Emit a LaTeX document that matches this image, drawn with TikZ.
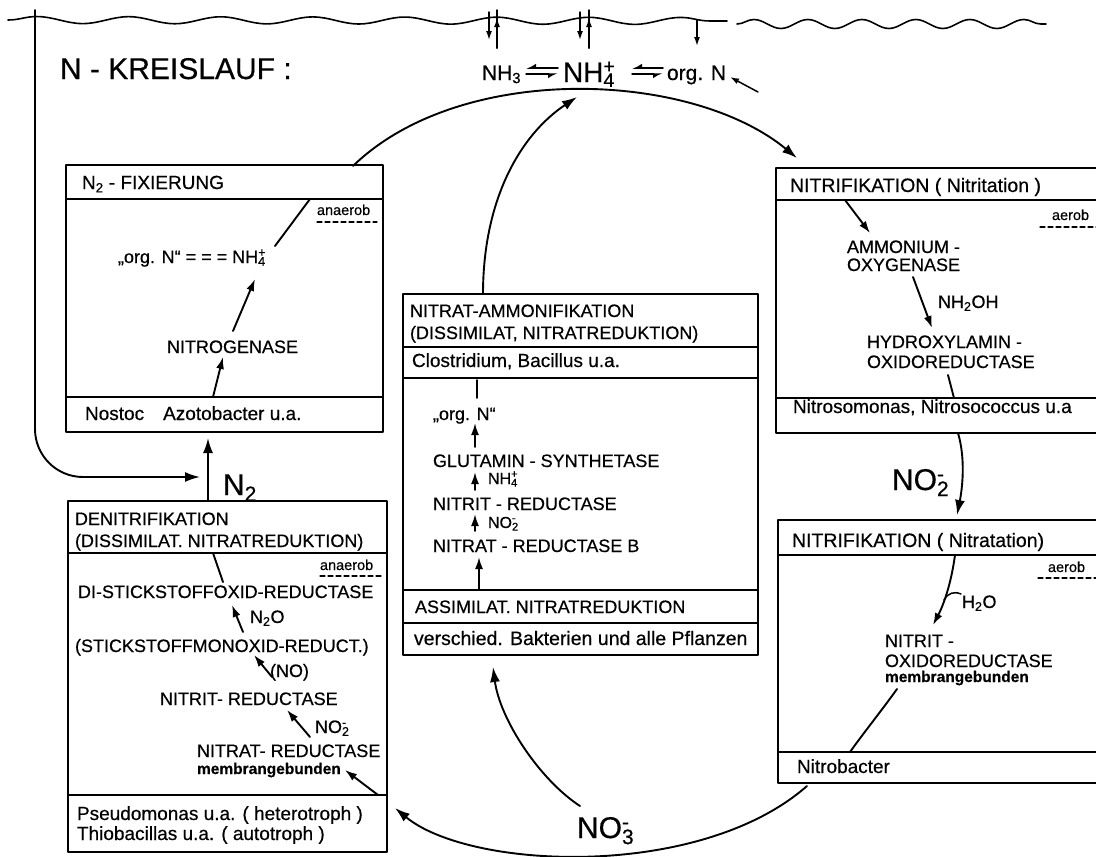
\documentclass[tikz,border=0pt]{standalone}
\usepackage{fontspec}
\setmainfont{Liberation Sans}[FakeBold=0.5]
\usetikzlibrary{arrows.meta,decorations.pathmorphing}
\newcommand\chemion[2]{\rlap{\textsubscript{#1}}\textsuperscript{#2}}
\newcommand\fsz[1]{\fontsize{#1}{#1}\selectfont}
\tikzset{
  lbl/.style={inner sep=0pt, outer sep=0pt, anchor=base west, font=\fsz{18}},
  head/.style={lbl, font=\fsz{19}},
  foot/.style={lbl, font=\fsz{19}},
  big/.style={lbl, font=\fsz{30}},
  env/.style={lbl, font=\fsz{14.5}},
  memb/.style={lbl, font=\fsz{15.5}\bfseries},
  frame/.style={draw, line width=2.1pt, inner sep=0pt, outer sep=0pt, anchor=north west},
  rule/.style={line width=1.7pt},
  link/.style={line width=1.9pt},
  flow/.style={link, -{Latex[length=15pt,width=10pt]}},
  sflow/.style={link, -{Latex[length=12pt,width=8pt]}},
  tflow/.style={line width=1.5pt, -{Latex[length=9pt,width=6pt]}},
  dashrule/.style={line width=1.3pt, dash pattern=on 5pt off 3pt},
  wave/.style={line width=1.6pt, decorate},
  harp/.style={line width=1.5pt},
}
\begin{document}
\begin{tikzpicture}[x=1pt, y=-1pt, line cap=round, line join=round]
\useasboundingbox (0,0) rectangle (1096,857);
\clip (0,0) rectangle (1096,857);

% water surface
\coordinate (wA) at (8,20);   \coordinate (wB) at (727,21);
\coordinate (wC) at (737,24); \coordinate (wD) at (1046,24);
\draw[wave, decoration={snake, segment length=92pt, amplitude=3.5pt}] (wA) -- (wB);
\draw[wave, decoration={snake, segment length=54pt, amplitude=4.5pt}] (wC) -- (wD);

% title and the ammonium row
\node[lbl, font=\fsz{30}] (title) at (60,79) {N - KREISLAUF :};
\node[lbl, font=\fsz{21}] (nh3) at (482,80) {NH\textsubscript{3}};
\node[lbl, font=\fsz{28}] (nh4) at (563,82) {NH\chemion{4}{+}};
\node[lbl, font=\fsz{21}] (orgn) at (667,80) {org. N};

% equilibrium harpoons
\coordinate (e1a) at (526,68); \coordinate (e1b) at (558,68);
\coordinate (e1c) at (526,74); \coordinate (e1d) at (558,74);
\coordinate (e2a) at (632,68); \coordinate (e2b) at (663,68);
\coordinate (e2c) at (632,74); \coordinate (e2d) at (663,74);
\draw[harp, -{Latex[harpoon,swap,length=8pt,width=9pt]}] (e1b) -- (e1a);
\draw[harp, -{Latex[harpoon,swap,length=8pt,width=9pt]}] (e1c) -- (e1d);
\draw[harp, -{Latex[harpoon,swap,length=8pt,width=9pt]}] (e2b) -- (e2a);
\draw[harp, -{Latex[harpoon,swap,length=8pt,width=9pt]}] (e2c) -- (e2d);

% exchange through the surface
\coordinate (p1a) at (489,12); \coordinate (p1b) at (489,40);
\coordinate (p1c) at (497,48); \coordinate (p1d) at (497,10); \coordinate (p1e) at (497,18);
\coordinate (p2a) at (580,12); \coordinate (p2b) at (580,40);
\coordinate (p2c) at (589,48); \coordinate (p2d) at (589,10); \coordinate (p2e) at (589,18);
\coordinate (s1a) at (697,20); \coordinate (s1b) at (697,46);
\draw[tflow] (p1a) -- (p1b);
\draw[line width=1.5pt] (p1c) -- (p1d); \draw[tflow] (p1c) -- (p1e);
\draw[tflow] (p2a) -- (p2b);
\draw[line width=1.5pt] (p2c) -- (p2d); \draw[tflow] (p2c) -- (p2e);
\draw[tflow] (s1a) -- (s1b);
\coordinate (oa) at (758,92); \coordinate (ob) at (730,77);
\draw[tflow] (oa) -- (ob);

% ---------- N2 fixation
\node[frame, minimum width=317pt, minimum height=267pt] (fixbox) at (66,165) {};
\draw[rule] (66,199) -- (383,199) (66,397) -- (383,397);
\node[head] (fixtitle) at (82,189) {N\textsubscript{2} - FIXIERUNG};
\node[env] (fixenv) at (317,215) {anaerob};
\draw[dashrule] (317,222) -- (377,222);
\node[lbl] (fixorg) at (118,263) {„org. N“ = = = NH\chemion{4}{+}};
\node[lbl] (nitrogenase) at (167,353) {NITROGENASE};
\node[foot] (fixbact) at (85,420) {Nostoc\quad Azotobacter u.a.};
\coordinate (f1a) at (310,199); \coordinate (f1b) at (275,246);
\coordinate (f2a) at (233,331); \coordinate (f2b) at (255,279);
\coordinate (f3a) at (213,397); \coordinate (f3b) at (223,357);
\draw[link] (f1a) -- (f1b);
\draw[sflow] (f2a) -- (f2b);
\draw[sflow] (f3a) -- (f3b);

% ---------- nitrate ammonification / assimilation
\node[frame, minimum width=355pt, minimum height=361pt] (ammbox) at (403,294) {};
\draw[rule] (403,347) -- (758,347) (403,378) -- (758,378) (403,590) -- (758,590) (403,623) -- (758,623);
\node[lbl] (amm1) at (410,317) {NITRAT-AMMONIFIKATION};
\node[lbl] (amm2) at (410,339) {(DISSIMILAT, NITRATREDUKTION)};
\node[foot] (ammbact) at (412,367) {Clostridium, Bacillus u.a.};
\node[lbl] (amorg) at (433,420) {„org. N“};
\node[lbl] (glut) at (433,467) {GLUTAMIN - SYNTHETASE};
\node[lbl, font=\fsz{16}] (amnh4) at (488,484) {NH\chemion{4}{+}};
\node[lbl] (nirb) at (433,510) {NITRIT - REDUCTASE};
\node[lbl, font=\fsz{16}] (amno2) at (488,528) {NO\chemion{2}{-}};
\node[lbl] (narb) at (433,552) {NITRAT - REDUCTASE B};
\node[lbl] (assim) at (415,613) {ASSIMILAT. NITRATREDUKTION};
\node[foot, font=\fsz{19.5}] (plants) at (414,645) {verschied. Bakterien und alle Pflanzen};
\coordinate (a0a) at (477,380); \coordinate (a0b) at (477,398);
\coordinate (a1a) at (475,447); \coordinate (a1b) at (475,423);
\coordinate (a2a) at (475,490); \coordinate (a2b) at (475,472);
\coordinate (a3a) at (475,531); \coordinate (a3b) at (475,514);
\coordinate (a4a) at (479,590); \coordinate (a4b) at (479,557);
\draw[link] (a0a) -- (a0b);
\draw[sflow] (a1a) -- (a1b);
\draw[sflow] (a2a) -- (a2b);
\draw[sflow] (a3a) -- (a3b);
\draw[sflow] (a4a) -- (a4b);

% ---------- nitritation
\node[frame, minimum width=334pt, minimum height=265pt] (nitritbox) at (776,168) {};
\draw[rule] (776,200) -- (1110,200) (776,398) -- (1110,398);
\node[head, font=\fsz{19.5}] (nitrit1) at (790,192) {NITRIFIKATION ( Nitritation )};
\node[env] (nitritenv) at (1052,220) {aerob};
\draw[dashrule] (1040,227) -- (1100,227);
\node[lbl] (amo1) at (847,253) {AMMONIUM -};
\node[lbl] (amo2) at (847,271) {OXYGENASE};
\node[lbl] (nh2oh) at (938,308) {NH\textsubscript{2}OH};
\node[lbl] (hao1) at (867,348) {HYDROXYLAMIN -};
\node[lbl] (hao2) at (867,368) {OXIDOREDUCTASE};
\node[foot] (nitritbact) at (793,413) {Nitrosomonas, Nitrosococcus u.a};
\coordinate (r1a) at (845,200); \coordinate (r1b) at (870,233);
\coordinate (r2a) at (913,277); \coordinate (r2b) at (932,328);
\coordinate (r3a) at (948,375); \coordinate (r3b) at (954,398);
\draw[sflow] (r1a) -- (r1b);
\draw[sflow] (r2a) -- (r2b);
\draw[link] (r3a) -- (r3b);

% ---------- nitratation
\node[frame, minimum width=332pt, minimum height=263pt] (nitratbox) at (778,520) {};
\draw[rule] (778,555) -- (1110,555) (778,752) -- (1110,752);
\node[head, font=\fsz{19.5}] (nitrat1) at (792,547) {NITRIFIKATION ( Nitratation)};
\node[env] (nitratenv) at (1048,572) {aerob};
\draw[dashrule] (1038,578) -- (1100,578);
\node[lbl] (h2o) at (962,608) {H\textsubscript{2}O};
\node[lbl] (nor1) at (885,647) {NITRIT -};
\node[lbl] (nor2) at (885,667) {OXIDOREDUCTASE};
\node[memb] (nor3) at (885,682) {membrangebunden};
\node[foot] (nitratbact) at (797,773) {Nitrobacter};
\coordinate (t1a) at (955,555); \coordinate (t1b) at (933,625);
\coordinate (t2a) at (944,600); \coordinate (t2b) at (961,594);
\coordinate (t3a) at (897,689); \coordinate (t3b) at (850,752);
\draw[sflow] (t1a) .. controls (951,585) and (943,606) .. (t1b);
\draw[line width=1.5pt] (t2a) .. controls (948,593) and (954,591) .. (t2b);
\draw[link] (t3a) .. controls (882,710) and (862,735) .. (t3b);

% ---------- denitrification
\node[frame, minimum width=319pt, minimum height=351pt] (denitbox) at (68,501) {};
\draw[rule] (68,553) -- (387,553) (68,795) -- (387,795);
\node[lbl] (den1) at (75,525) {DENITRIFIKATION};
\node[lbl] (den2) at (75,547) {(DISSIMILAT. NITRATREDUKTION)};
\node[env] (denenv) at (320,570) {anaerob};
\draw[dashrule] (320,576) -- (382,576);
\node[lbl] (nosz) at (78,598) {DI-STICKSTOFFOXID-REDUCTASE};
\node[lbl] (n2o) at (250,623) {N\textsubscript{2}O};
\node[lbl] (nor) at (75,652) {(STICKSTOFFMONOXID-REDUCT.)};
\node[lbl] (no) at (270,677) {(NO)};
\node[lbl] (nir) at (160,705) {NITRIT- REDUCTASE};
\node[lbl] (dno2) at (315,733) {NO\chemion{2}{-}};
\node[lbl] (nar) at (197,757) {NITRAT- REDUCTASE};
\node[memb] (narm) at (197,774) {membrangebunden};
\node[foot] (denb1) at (77,820) {Pseudomonas u.a. ( heterotroph )};
\node[foot] (denb2) at (77,840) {Thiobacillas u.a. ( autotroph )};
\coordinate (d0a) at (213,553); \coordinate (d0b) at (223,582);
\coordinate (d1a) at (243,632); \coordinate (d1b) at (232,605);
\coordinate (d2a) at (272,677); \coordinate (d2b) at (254,655);
\coordinate (d3a) at (310,737); \coordinate (d3b) at (287,710);
\coordinate (d4a) at (378,795); \coordinate (d4b) at (345,770);
\draw[link] (d0a) -- (d0b);
\draw[sflow] (d1a) -- (d1b);
\draw[sflow] (d2a) -- (d2b);
\draw[sflow] (d3a) -- (d3b);
\draw[sflow] (d4a) -- (d4b);

% ---------- the cycle
\node[big] (n2) at (223,495) {N\textsubscript{2}};
\node[big] (no2) at (892,490) {NO\chemion{2}{-}};
\node[big] (no3) at (577,838) {NO\chemion{3}{-}};

\coordinate (atm) at (35,10); \coordinate (atmbend) at (35,477); \coordinate (n2in) at (200,477);
\draw[flow, rounded corners=48pt] (atm) -- (atmbend) -- (n2in);
\coordinate (denout) at (208,501); \coordinate (fixin) at (208,438);
\draw[flow] (denout) -- (fixin);
\coordinate (fixout) at (353,166); \coordinate (nitritin) at (797,158);
\draw[flow] (fixout) .. controls (460,62) and (690,70) .. (nitritin);
\coordinate (ammout) at (483,294); \coordinate (nh4in) at (577,97);
\draw[flow] (ammout) .. controls (483,200) and (520,135) .. (nh4in);
\coordinate (nitritout) at (958,433); \coordinate (nitratin) at (957,515);
\draw[flow] (nitritout) .. controls (966,460) and (962,490) .. (nitratin);
\coordinate (nitratout) at (807,786); \coordinate (denin) at (395,808);
\draw[flow] (nitratout) .. controls (700,880) and (470,870) .. (denin);
\coordinate (no3out) at (580,806); \coordinate (assimin) at (493,667);
\draw[flow] (no3out) .. controls (540,780) and (500,720) .. (assimin);
\end{tikzpicture}
\end{document}
